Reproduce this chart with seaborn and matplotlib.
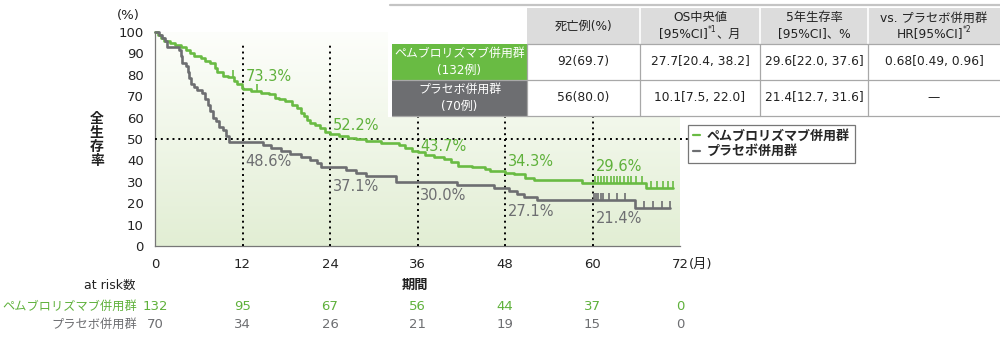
import numpy as np
import pandas as pd
import matplotlib
matplotlib.use("Agg")
import matplotlib.pyplot as plt
import matplotlib.transforms as mtransforms
from matplotlib.lines import Line2D
from matplotlib.patches import Rectangle
import seaborn as sns

sns.set_theme(style="white")
plt.rcParams["font.family"] = ["DejaVu Sans", "Noto Sans CJK JP"]

# ---------------- data ----------------
groups = ["ペムブロリズマブ併用群", "プラセボ併用群"]

pembro_t = [0, 0.4, 0.8, 1.3, 2.0, 2.7, 3.5, 4.3, 4.8, 5.4, 6.3, 6.9, 7.6, 8.2, 8.5,
            9.3, 10.0, 10.8, 11.3, 11.9, 12.0, 13.2, 14.5, 15.6, 16.5, 17.0, 17.8,
            18.8, 19.5, 20.0, 20.4, 20.9, 21.3, 22.0, 22.6, 23.3, 24.0, 25.2, 26.4,
            27.5, 29.0, 31.0, 33.5, 34.3, 35.2, 36.0, 37.0, 38.3, 39.7, 40.6, 41.5,
            43.5, 45.3, 46.0, 48.0, 49.3, 50.8, 52.0, 58.6, 67.3, 71.0]
pembro_s = [100, 98.5, 97.0, 96.0, 95.0, 94.0, 93.0, 91.5, 90.0, 88.6, 87.9, 86.4, 85.6,
            83.3, 81.1, 79.5, 78.8, 77.2, 75.7, 74.0, 73.3, 72.5, 71.7, 70.9, 69.3,
            68.5, 67.7, 66.1, 64.6, 62.2, 60.6, 59.1, 57.5, 56.7, 55.1, 53.5, 52.2,
            51.4, 50.6, 49.8, 49.0, 48.2, 47.4, 45.8, 44.3, 43.7, 42.4, 41.6, 40.8,
            39.2, 37.6, 36.8, 35.9, 35.1, 34.3, 33.5, 31.8, 30.9, 29.6, 27.0, 27.0]

placebo_t = [0, 0.6, 1.0, 1.4, 1.7, 3.3, 3.5, 3.7, 4.2, 4.5, 4.7, 4.9, 5.4, 5.8, 6.5,
             6.9, 7.2, 7.6, 7.9, 8.4, 8.8, 9.3, 9.7, 10.1, 14.8, 15.9, 17.3, 18.5,
             20.0, 21.3, 22.2, 22.8, 26.2, 27.6, 29.0, 33.0, 41.4, 46.5, 48.6, 49.6,
             50.6, 52.4, 65.8, 70.6]
placebo_s = [100, 98.6, 97.1, 95.7, 92.9, 91.4, 88.6, 85.7, 84.3, 81.4, 78.6, 75.7,
             74.3, 72.9, 71.4, 68.6, 65.7, 62.9, 60.0, 58.6, 55.7, 54.3, 51.4, 48.6,
             47.1, 45.7, 44.3, 42.9, 41.4, 40.0, 38.6, 37.1, 35.7, 34.3, 32.9, 30.0,
             28.6, 27.1, 25.7, 24.3, 22.9, 21.4, 17.9, 17.9]

pembro_censor = [10.7, 14.0, 60.3, 60.7, 61.2, 61.6, 62.0, 62.5, 63.0, 63.3, 63.8,
                 64.3, 64.8, 65.3, 66.0, 66.8, 68.0, 68.8, 69.6, 70.3, 71.0]
placebo_censor = [60.2, 60.5, 60.8, 61.1, 61.4, 62.3, 63.3, 64.5, 67.0, 68.3, 69.5, 70.6]

landmark_months = [12, 24, 36, 48, 60]
pembro_landmark = [73.3, 52.2, 43.7, 34.3, 29.6]
placebo_landmark = [48.6, 37.1, 30.0, 27.1, 21.4]
pembro_label_y = [79.0, 56.5, 46.7, 39.3, 37.0]
placebo_label_y = [39.3, 27.6, 23.8, 15.9, 13.0]

risk_months = [0, 12, 24, 36, 48, 60, 72]
pembro_risk = [132, 95, 67, 56, 44, 37, 0]
placebo_risk = [70, 34, 26, 21, 19, 15, 0]

table_cols = ["死亡例(%)", "OS中央値", "5年生存率", "vs. プラセボ併用群"]
pembro_row = ["92(69.7)", "27.7[20.4, 38.2]", "29.6[22.0, 37.6]", "0.68[0.49, 0.96]"]
placebo_row = ["56(80.0)", "10.1[7.5, 22.0]", "21.4[12.7, 31.6]", "—"]

GREEN = "#69bb43"
GREEN_TXT = "#5fb13b"
GRAY = "#6d6e71"
DARK = "#222222"

# ---------------- figure ----------------
fig = plt.figure(figsize=(10, 3.41), dpi=100)
ax = fig.add_axes([0.155, 1 - 246 / 341, 0.525, 214 / 341])

# soft green gradient behind the curves
grad = np.linspace(0, 1, 256).reshape(-1, 1)
top = np.array([253, 254, 251]) / 255
bot = np.array([226, 238, 212]) / 255
img = top + (bot - top) * grad[..., None]
ax.imshow(img[::-1], extent=[0, 72, 0, 100], aspect="auto", origin="lower", zorder=0)

df = pd.concat([
    pd.DataFrame({"month": pembro_t, "surv": pembro_s, "group": groups[0]}),
    pd.DataFrame({"month": placebo_t, "surv": placebo_s, "group": groups[1]}),
])
sns.lineplot(data=df, x="month", y="surv", hue="group", palette=[GREEN, GRAY],
             drawstyle="steps-post", estimator=None, linewidth=1.9, legend=False,
             ax=ax, zorder=4)


def step_value(t_list, s_list, t):
    idx = np.searchsorted(t_list, t, side="right") - 1
    return s_list[idx]


for cens, tl, sl, col in [(pembro_censor, pembro_t, pembro_s, GREEN),
                          (placebo_censor, placebo_t, placebo_s, GRAY)]:
    yv = [step_value(tl, sl, c) for c in cens]
    ax.plot(cens, yv, linestyle="none", marker=2, markersize=5, markeredgewidth=1.2,
            color=col, zorder=4, clip_on=False)

# reference lines
for m in landmark_months:
    ax.plot([m, m], [0, 95.5], color="black", linestyle=(0, (1, 2)), linewidth=1.4,
            zorder=3, clip_on=False)
ax.plot([0, 73.4], [50, 50], color="black", linestyle=(0, (1, 2)), linewidth=1.4,
        zorder=3, clip_on=False)

for m, lab, yl in zip(landmark_months, pembro_landmark, pembro_label_y):
    ax.text(m + 0.4, yl, f"{lab:.1f}%", color=GREEN_TXT, fontsize=10.5, va="center",
            ha="left", zorder=5)
for m, lab, yl in zip(landmark_months, placebo_landmark, placebo_label_y):
    ax.text(m + 0.4, yl, f"{lab:.1f}%", color=GRAY, fontsize=10.5, va="center",
            ha="left", zorder=5)

for ln in ax.lines:
    ln.set_clip_on(False)

ax.set_xlim(0, 72)
ax.set_ylim(0, 100)
ax.set_xticks(risk_months)
ax.set_yticks(range(0, 101, 10))
ax.tick_params(axis="both", direction="out", length=5, width=0.9, color="#777777",
               labelsize=9.5, labelcolor=DARK, pad=3)
ax.tick_params(axis="x", pad=4)
for side in ["top", "right"]:
    ax.spines[side].set_visible(False)
for side in ["left", "bottom"]:
    ax.spines[side].set_color("#777777")
    ax.spines[side].set_linewidth(0.9)
ax.set_xlabel("")
ax.set_ylabel("")

# legend
handles = [Line2D([], [], color=GREEN, lw=1.6), Line2D([], [], color=GRAY, lw=1.6)]
leg = ax.legend(handles, groups, loc="upper left",
                bbox_to_anchor=(688 / 1000, 1 - 125 / 341), bbox_transform=fig.transFigure,
                frameon=True, fancybox=False, handlelength=0.6, handletextpad=0.5,
                borderpad=0.35, labelspacing=0.2, borderaxespad=0,
                prop={"size": 9.4, "weight": "bold"})
leg.get_frame().set_edgecolor("#555555")
leg.get_frame().set_linewidth(0.9)

# ---------------- overlay in pixel units ----------------
ov = fig.add_axes([0, 0, 1, 1], zorder=10)
ov.set_xlim(0, 1000)
ov.set_ylim(341, 0)
ov.axis("off")
ov.patch.set_alpha(0)

ov.text(128, 15, "(%)", fontsize=9.5, ha="center", va="center", color=DARK)
ov.text(689, 264, "(月)", fontsize=9.5, ha="left", va="center", color=DARK)
ov.text(97, 140, "全\n生\n存\n率", fontsize=10, fontweight="bold", ha="center",
        va="center", linespacing=1.0, color=DARK)
ov.text(415, 285, "期間", fontsize=9.5, fontweight="bold", ha="center", va="center",
        color=DARK)
ov.text(135, 285, "at risk数", fontsize=9, ha="right", va="center", color=DARK)
ov.text(137, 306, groups[0], fontsize=8.8, ha="right", va="center", color=GREEN_TXT)
ov.text(137, 324, groups[1], fontsize=8.8, ha="right", va="center", color=GRAY)

risk_tr = mtransforms.blended_transform_factory(ax.transData, ov.transData)
for m, a, b in zip(risk_months, pembro_risk, placebo_risk):
    ov.text(m, 306, str(a), transform=risk_tr, fontsize=9.5, ha="center", va="center",
            color=GREEN_TXT)
    ov.text(m, 324, str(b), transform=risk_tr, fontsize=9.5, ha="center", va="center",
            color=GRAY)

# ---------------- summary table ----------------
col_edges = [392, 527, 640, 760, 868, 1000]
y_top, y_head, y_mid, y_bot = 8, 43.5, 79.5, 115.5
ov.add_patch(Rectangle((388, 3), 612, 114, facecolor="white", edgecolor="none", zorder=1))
ov.plot([390, 1000], [5, 5], color="#c4c4c4", lw=1.6, zorder=2)
ov.add_patch(Rectangle((col_edges[1], y_top), col_edges[-1] - col_edges[1], y_head - y_top,
                       facecolor="#dcdcdc", edgecolor="none", zorder=2))
ov.add_patch(Rectangle((col_edges[0], y_head), col_edges[1] - col_edges[0], y_mid - y_head,
                       facecolor=GREEN, edgecolor="none", zorder=2))
ov.add_patch(Rectangle((col_edges[0], y_mid), col_edges[1] - col_edges[0], y_bot - y_mid,
                       facecolor=GRAY, edgecolor="none", zorder=2))
for x in col_edges[2:-1]:
    ov.plot([x, x], [y_top, y_head], color="white", lw=1.2, zorder=3)
for x in col_edges[1:-1]:
    ov.plot([x, x], [y_head, y_bot], color="#a8a8a8", lw=0.9, zorder=3)
ov.plot([col_edges[0], 1000], [y_mid, y_mid], color="#a8a8a8", lw=0.9, zorder=3)
ov.plot([col_edges[0], 1000], [y_bot, y_bot], color="#a8a8a8", lw=0.9, zorder=3)
ov.plot([col_edges[1], 1000], [y_head, y_head], color="#a8a8a8", lw=0.9, zorder=3)

centers = [(col_edges[i] + col_edges[i + 1]) / 2 for i in range(len(col_edges) - 1)]
TFS = 8.8


def compose(parts, xc, y, color=DARK):
    """Lay out text pieces side by side, centred on xc; pieces may be raised."""
    texts = []
    for s, size, dy in parts:
        texts.append(ov.text(0, y + dy, s, fontsize=size, ha="left", va="center",
                             color=color, zorder=5))
    r = fig.canvas.get_renderer()
    widths = [t.get_window_extent(r).width for t in texts]
    x = xc - sum(widths) / 2
    for t, w in zip(texts, widths):
        t.set_x(x)
        x += w


fig.canvas.draw()
ov.text(centers[1], 26, table_cols[0], fontsize=TFS, ha="center", va="center",
        color=DARK, zorder=5)
ov.text(centers[2], 18, table_cols[1], fontsize=TFS, ha="center", va="center",
        color=DARK, zorder=5)
compose([("[95%CI]", TFS, 0), ("*1", 5.5, -4), ("、月", TFS, 0)], centers[2], 34)
ov.text(centers[3], 18, table_cols[2], fontsize=TFS, ha="center", va="center",
        color=DARK, zorder=5)
ov.text(centers[3], 34, "[95%CI]、%", fontsize=TFS, ha="center", va="center",
        color=DARK, zorder=5)
ov.text(centers[4], 18, table_cols[3], fontsize=TFS, ha="center", va="center",
        color=DARK, zorder=5)
compose([("HR[95%CI]", TFS, 0), ("*2", 5.5, -4)], centers[4], 34)

ov.text(centers[0], 53, groups[0], fontsize=8.6, ha="center", va="center",
        color="white", zorder=5)
ov.text(centers[0], 70, "(132例)", fontsize=8.6, ha="center", va="center",
        color="white", zorder=5)
ov.text(centers[0], 89, groups[1], fontsize=8.6, ha="center", va="center",
        color="white", zorder=5)
ov.text(centers[0], 106, "(70例)", fontsize=8.6, ha="center", va="center",
        color="white", zorder=5)
for c, a, b in zip(centers[1:], pembro_row, placebo_row):
    ov.text(c, 61.5, a, fontsize=TFS, ha="center", va="center", color=DARK, zorder=5)
    ov.text(c, 97.5, b, fontsize=TFS, ha="center", va="center", color=DARK, zorder=5)

fig.savefig("out.png", dpi=100)
